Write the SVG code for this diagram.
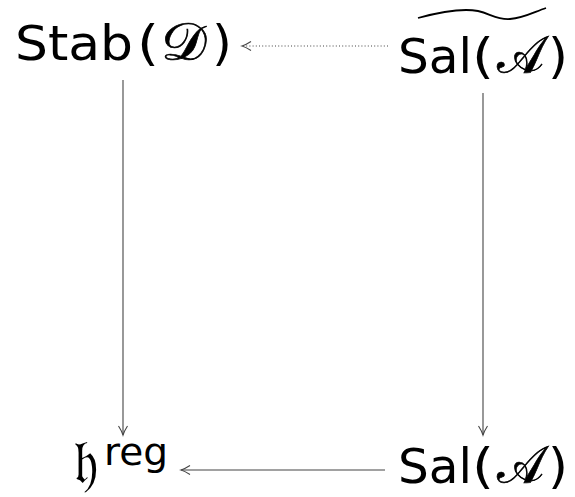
<svg xmlns="http://www.w3.org/2000/svg" width="575" height="497" viewBox="0 0 575 497">
  <style>
    .lbl { font-family: "DejaVu Sans", "Liberation Sans", sans-serif; font-size: 48px; fill: #000; }
    .cal { font-family: "DejaVu Sans", "Noto Sans", "DejaVu Serif", serif; font-size: 52px; fill: #000; stroke: #000; stroke-width: 0.7; }
    .frak { font-family: "DejaVu Sans", "DejaVu Serif", serif; font-size: 62px; fill: #000; }
    .sup { font-family: "DejaVu Sans", "Liberation Sans", sans-serif; font-size: 38px; fill: #000; }
    .arr { stroke: #444; stroke-width: 1.1; fill: none; }
    .dot { stroke-dasharray: 1 2.2; }
  </style>
  <defs>
    <marker id="head" markerUnits="userSpaceOnUse" markerWidth="14" markerHeight="12" viewBox="-11 -6 12 12" refX="0" refY="0" orient="auto">
      <path d="M-9,-4.5 Q-3.5,-1 0,0 Q-3.5,1 -9,4.5" fill="none" stroke="#444" stroke-width="1.1"/>
    </marker>
  </defs>

  <g id="connectors">
    <line class="arr dot" x1="388" y1="46" x2="242" y2="46" marker-end="url(#head)"/>
    <line class="arr" x1="123" y1="80" x2="123" y2="435" marker-end="url(#head)"/>
    <line class="arr" x1="483" y1="93" x2="483" y2="435" marker-end="url(#head)"/>
    <line class="arr" x1="385" y1="470" x2="181" y2="470" marker-end="url(#head)"/>
  </g>

  <g id="stab">
    <text class="lbl" x="15" y="60" textLength="118" lengthAdjust="spacingAndGlyphs">Stab</text>
    <text class="lbl" x="137" y="60" textLength="22" lengthAdjust="spacingAndGlyphs">(</text>
    <text class="cal" x="161" y="60" textLength="46" lengthAdjust="spacingAndGlyphs">&#x1D49F;</text>
    <text class="lbl" x="212" y="60" textLength="20" lengthAdjust="spacingAndGlyphs">)</text>
  </g>

  <g id="sal-tilde">
    <path d="M418,18 C440,12 462,8 478,11 C491,14 497,20 510,19 C524,18 534,12 546,8" fill="none" stroke="#000" stroke-width="1.8"/>
    <text class="lbl" x="398" y="73" textLength="74" lengthAdjust="spacingAndGlyphs">Sal</text>
    <text class="lbl" x="472" y="73" textLength="22" lengthAdjust="spacingAndGlyphs">(</text>
    <text class="cal" x="497" y="73" textLength="47" lengthAdjust="spacingAndGlyphs">&#x1D49C;</text>
    <text class="lbl" x="548" y="73" textLength="20" lengthAdjust="spacingAndGlyphs">)</text>
  </g>

  <g id="hreg">
    <text class="frak" x="74" y="483" textLength="24" lengthAdjust="spacingAndGlyphs">&#x1D525;</text>
    <text class="sup" x="104" y="465" textLength="64" lengthAdjust="spacingAndGlyphs">reg</text>
  </g>

  <g id="sal">
    <text class="lbl" x="398" y="483" textLength="74" lengthAdjust="spacingAndGlyphs">Sal</text>
    <text class="lbl" x="472" y="483" textLength="22" lengthAdjust="spacingAndGlyphs">(</text>
    <text class="cal" x="497" y="483" textLength="47" lengthAdjust="spacingAndGlyphs">&#x1D49C;</text>
    <text class="lbl" x="548" y="483" textLength="20" lengthAdjust="spacingAndGlyphs">)</text>
  </g>
</svg>
